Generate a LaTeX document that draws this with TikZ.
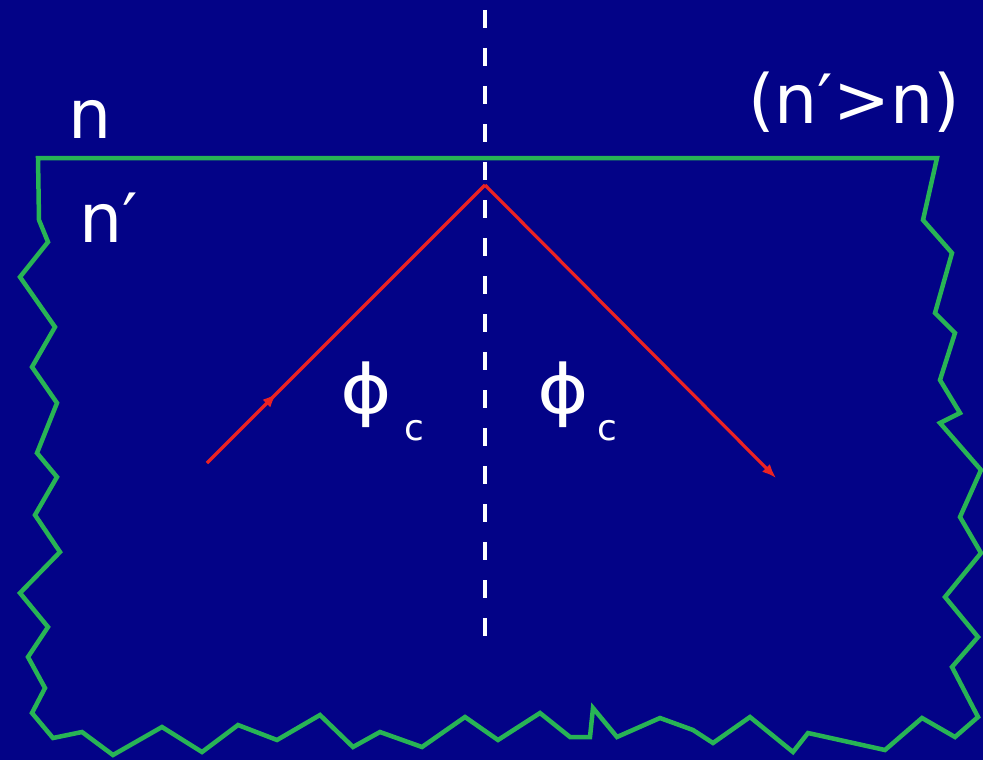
\documentclass[tikz,border=0pt]{standalone}
\usepackage{fontspec}
\setmainfont{DejaVu Sans}
\usetikzlibrary{arrows.meta,decorations.markings}
\definecolor{bgblue}{RGB}{3,3,135}
\definecolor{edgegreen}{RGB}{40,180,85}
\definecolor{rayred}{RGB}{235,35,35}
\begin{document}
\begin{tikzpicture}[x=1pt,y=-1pt,
  bigtext/.style={text=white,inner sep=0pt,anchor=base west,font=\fontsize{68}{80}\selectfont},
  subtext/.style={text=white,inner sep=0pt,anchor=base west,font=\fontsize{36}{40}\selectfont},
  edge/.style={draw=edgegreen,line width=4.5pt,line join=miter},
  ray/.style={draw=rayred,line width=3.2pt},
  normalline/.style={draw=white,line width=3.5pt,dash pattern=on 18pt off 20pt},
  tip/.style={-{Latex[length=14pt,width=11pt]}}]
\fill[bgblue] (0,0) rectangle (983,760);
\useasboundingbox (0,0) rectangle (983,760);
% boundary of the denser medium
\draw[edge] (38,158) -- (937,158) -- (923,220) -- (952,253) -- (935,313) -- (955,333) -- (940,380) -- (960,413) -- (940,423) -- (981,470) -- (960,517) -- (981,553) -- (945,597) -- (978,637) -- (952,667) -- (978,717) -- (955,737) -- (922,718) -- (885,750) -- (808,733) -- (793,752) -- (750,717) -- (713,743) -- (693,730) -- (660,718) -- (617,737) -- (593,708) -- (590,737) -- (570,737) -- (540,713) -- (498,740) -- (465,717) -- (422,747) -- (380,732) -- (353,747) -- (320,715) -- (277,740) -- (238,725) -- (202,752) -- (162,727) -- (113,755) -- (82,732) -- (53,738) -- (32,713) -- (45,688) -- (28,657) -- (48,627) -- (20,593) -- (60,552) -- (35,515) -- (57,477) -- (37,453) -- (57,403) -- (32,367) -- (55,327) -- (20,277) -- (48,242) -- (39,220) -- cycle;
% normal
\coordinate (ntop) at (485,10);
\coordinate (nbot) at (485,642);
\draw[normalline] (ntop) -- (nbot);
% rays
\coordinate (src) at (207,463);
\coordinate (hit) at (485,185);
\coordinate (out) at (776,478);
\draw[ray,postaction={decorate},decoration={markings,mark=at position 0.25 with {\arrow{Latex[length=14pt,width=11pt]}}}] (src) -- (hit);
\draw[ray,tip] (hit) -- (out);
% labels
\node[bigtext] (nlab) at (68,138) {n};
\node[bigtext] (nplab) at (79,242) {n′};
\node[bigtext] (cond) at (748,123) {(n′>n)};
\node[bigtext] (phil) at (340,413) {\scalebox{1.15}[1]{ϕ}};
\node[subtext] (cl) at (404,440) {c};
\node[bigtext] (phir) at (537,413) {\scalebox{1.15}[1]{ϕ}};
\node[subtext] (cr) at (597,440) {c};
\end{tikzpicture}
\end{document}
